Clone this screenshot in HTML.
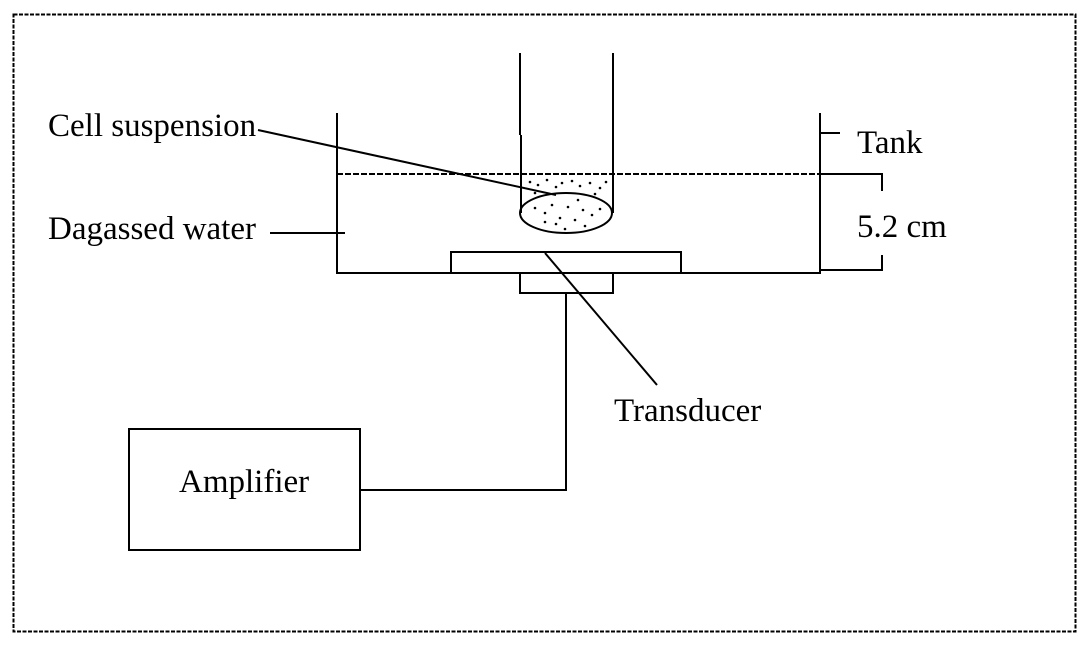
<!DOCTYPE html>
<html><head><style>
html,body{margin:0;padding:0;background:#fff;}
svg{display:block;}
text{font-family:"Liberation Serif",serif;font-size:33px;fill:#000;}
</style></head><body>
<svg width="1087" height="645" viewBox="0 0 1087 645">
<rect x="13.5" y="14.5" width="1062" height="617" fill="none" stroke="#000" stroke-width="2" stroke-dasharray="4,1.5"/>
<g stroke="#000" stroke-width="2" fill="none">
<polyline points="337,113 337,273 820,273 820,113"/>
<line x1="820" y1="133" x2="840" y2="133"/>
<line x1="337" y1="174" x2="820" y2="174" stroke-dasharray="6,2"/>
<polyline points="820,174 882,174 882,191"/>
<polyline points="882,255 882,270 820,270"/>
<line x1="520" y1="53" x2="520" y2="135"/>
<line x1="521" y1="135" x2="521" y2="213"/>
<line x1="613" y1="53" x2="613" y2="213"/>
<ellipse cx="566" cy="213" rx="46" ry="20"/>
<rect x="451" y="252" width="230" height="21"/>
<rect x="520" y="273" width="93" height="20"/>
<polyline points="566,293 566,490 360,490"/>
<rect x="129" y="429" width="231" height="121"/>
<line x1="258" y1="130" x2="556" y2="195"/>
<line x1="270" y1="233" x2="345" y2="233"/>
<line x1="545" y1="253" x2="657" y2="385"/>
</g>
<g fill="#000">
<circle cx="530" cy="182" r="1.3"/><circle cx="538" cy="185" r="1.3"/><circle cx="547" cy="180" r="1.3"/><circle cx="556" cy="187" r="1.3"/><circle cx="562" cy="183" r="1.3"/><circle cx="572" cy="181" r="1.3"/><circle cx="580" cy="186" r="1.3"/><circle cx="590" cy="183" r="1.3"/><circle cx="600" cy="188" r="1.3"/><circle cx="606" cy="182" r="1.3"/><circle cx="535" cy="193" r="1.3"/><circle cx="595" cy="194" r="1.3"/>
<circle cx="535" cy="208" r="1.3"/><circle cx="545" cy="213" r="1.3"/><circle cx="552" cy="205" r="1.3"/><circle cx="560" cy="218" r="1.3"/><circle cx="568" cy="207" r="1.3"/><circle cx="575" cy="220" r="1.3"/><circle cx="583" cy="210" r="1.3"/><circle cx="592" cy="215" r="1.3"/><circle cx="600" cy="209" r="1.3"/><circle cx="556" cy="224" r="1.3"/><circle cx="578" cy="200" r="1.3"/><circle cx="545" cy="222" r="1.3"/><circle cx="585" cy="226" r="1.3"/><circle cx="565" cy="229" r="1.3"/>
</g>
<text x="48" y="136">Cell suspension</text>
<text x="48" y="239">Dagassed water</text>
<text x="857" y="153">Tank</text>
<text x="857" y="237">5.2 cm</text>
<text x="614" y="421">Transducer</text>
<text x="179" y="492">Amplifier</text>
</svg>
</body></html>
